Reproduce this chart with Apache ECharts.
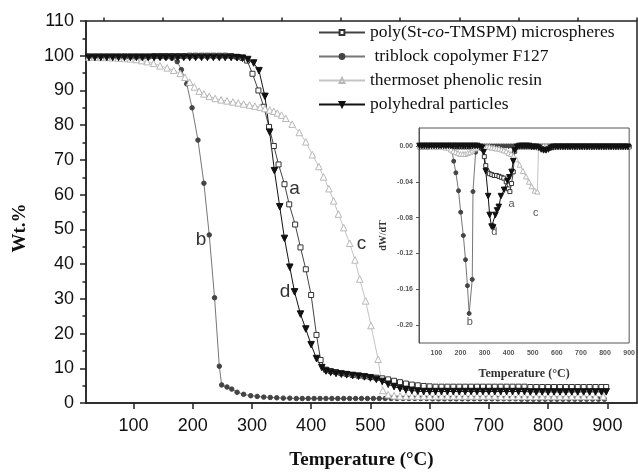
<!DOCTYPE html>
<html>
<head>
<meta charset="utf-8">
<script src="https://cdn.jsdelivr.net/npm/echarts@6/dist/echarts.min.js"></script>
<style>
  html, body { margin: 0; padding: 0; background: #fff; }
  #main { width: 638px; height: 475px; }
</style>
</head>
<body>
<div id="main"></div>
<script>
// TGA curves, [temperature, wt%]
var tgaA = [
  [25,99.8],[35,99.8],[45,99.8],[55,99.8],[65,99.8],[75,99.8],[85,99.8],[95,99.8],[105,99.8],[115,99.8],
  [125,99.8],[135,99.9],[145,99.9],[155,99.9],[165,99.9],[175,99.9],[185,99.9],[195,100],[205,100],[215,100],
  [225,100],[235,100],[245,100],[255,100],[265,99.9],[275,99.7],[284,99.4],[292,98.6],[301,94.8],[311,90.0],
  [320,85.3],[329,79.5],[337,74.0],[345,68.7],[355,63.0],[363,57.2],[373,51.4],[382,44.8],[391,38.5],[400,31.1],
  [409,19.6],[416,12.4],[425,9.6],[433,9.2],[442,8.9],[451,8.6],[460,8.4],[470,8.1],[480,7.9],[490,7.7],
  [500,7.5],[510,7.3],[520,7.1],[530,6.8],[540,6.4],[550,6.0],[560,5.6],[570,5.3],[580,5.1],[590,4.9],
  [600,4.8],[610,4.7],[620,4.7],[630,4.7],[640,4.7],[650,4.7],[660,4.7],[670,4.7],[680,4.7],[690,4.7],
  [700,4.7],[710,4.7],[720,4.7],[730,4.7],[740,4.7],[750,4.7],[760,4.7],[770,4.6],[780,4.6],[790,4.6],
  [800,4.6],[810,4.6],[820,4.6],[830,4.6],[840,4.6],[850,4.6],[860,4.6],[870,4.6],[880,4.6],[890,4.6],[898,4.6]
];
var tgaB = [
  [25,99.7],[35,99.7],[45,99.7],[55,99.7],[65,99.7],[75,99.7],[85,99.7],[95,99.7],[105,99.7],[115,99.7],
  [125,99.7],[135,99.7],[145,99.6],[155,99.5],[165,99.3],[174,98.3],[181,96.0],[190,91.9],[199,85.0],[209,75.7],
  [219,63.3],[228,48.4],[237,30.3],[245,10.6],[249,5.2],[258,4.6],[266,4.0],[275,3.1],[286,2.5],[298,2.1],
  [309,1.9],[320,1.7],[331,1.6],[342,1.5],[353,1.4],[364,1.4],[375,1.3],[385,1.3],[395,1.3],[405,1.3],
  [415,1.3],[425,1.3],[435,1.3],[445,1.3],[455,1.3],[465,1.3],[475,1.3],[485,1.3],[495,1.3],[505,1.3],
  [515,1.3],[525,1.3],[535,1.3],[545,1.3],[555,1.3],[565,1.3],[575,1.3],[585,1.3],[595,1.3],[605,1.2],
  [615,1.2],[625,1.2],[635,1.2],[645,1.2],[655,1.2],[665,1.2],[675,1.2],[685,1.2],[695,1.2],[705,1.2],
  [715,1.2],[725,1.2],[735,1.2],[745,1.2],[755,1.1],[765,1.1],[775,1.1],[785,1.1],[795,1.1],[805,1.1],
  [815,1.1],[825,1.1],[835,1.1],[845,1.1],[855,1.1],[865,1.1],[875,1.1],[885,1.1],[895,1.1]
];
var tgaC = [
  [25,99.6],[35,99.6],[45,99.5],[55,99.5],[65,99.4],[75,99.3],[85,99.2],[95,99.1],[105,98.9],[114,98.6],
  [123,98.3],[134,97.8],[145,97.1],[157,96.5],[168,95.8],[179,94.9],[187,93.8],[195,92.4],[203,91.0],[211,89.8],
  [219,89.0],[228,88.3],[238,87.7],[248,87.3],[258,87.0],[268,86.7],[277,86.4],[286,86.1],[296,85.8],[305,85.5],
  [314,85.2],[322,84.8],[330,84.4],[337,84.0],[343,83.5],[350,82.9],[357,82.0],[368,80.3],[380,77.9],[391,75.2],
  [402,71.5],[413,68.1],[421,65.1],[430,61.7],[438,58.2],[446,54.4],[455,50.5],[465,46.0],[474,41.2],[482,35.7],
  [492,29.4],[501,22.3],[513,12.6],[521,3.6],[530,2.4],[540,2.1],[550,2.0],[560,2.0],[570,2.0],[580,2.0],
  [590,2.0],[600,2.0],[610,2.0],[620,2.0],[630,2.0],[640,2.0],[650,2.0],[660,2.0],[670,2.0],[680,2.0],
  [690,2.0],[700,2.0],[710,2.0],[720,1.9],[730,1.9],[740,1.9],[750,1.9],[760,1.9],[770,1.9],[780,1.9],
  [790,1.9],[800,1.9],[810,1.9],[820,1.9],[830,1.9],[840,1.9],[850,1.9],[860,1.9],[870,1.9],[880,1.9],[893,1.9]
];
var tgaD = [
  [25,99.5],[35,99.5],[45,99.5],[55,99.5],[65,99.5],[75,99.5],[85,99.5],[95,99.5],[105,99.5],[115,99.5],
  [125,99.5],[135,99.5],[145,99.5],[155,99.5],[165,99.5],[175,99.5],[185,99.5],[195,99.5],[205,99.5],[215,99.5],
  [225,99.5],[235,99.5],[245,99.5],[255,99.5],[265,99.5],[275,99.4],[284,99.3],[293,98.9],[303,97.9],[312,95.7],
  [322,88.3],[330,78.0],[338,66.9],[347,56.5],[355,47.4],[364,39.1],[372,32.0],[382,25.6],[391,21.3],[400,16.8],
  [409,12.8],[418,10.2],[425,9.2],[433,8.8],[442,8.5],[451,8.3],[460,8.1],[470,7.9],[480,7.7],[490,7.5],
  [500,7.2],[510,6.8],[520,6.2],[530,5.4],[540,4.7],[550,4.2],[560,3.8],[570,3.6],[580,3.4],[590,3.3],
  [600,3.3],[610,3.3],[620,3.3],[630,3.3],[640,3.3],[650,3.3],[660,3.3],[670,3.3],[680,3.3],[690,3.3],
  [700,3.3],[710,3.3],[720,3.3],[730,3.3],[740,3.3],[750,3.3],[760,3.3],[770,3.2],[780,3.2],[790,3.2],
  [800,3.2],[810,3.2],[820,3.2],[830,3.2],[840,3.2],[850,3.2],[860,3.2],[870,3.2],[880,3.2],[890,3.2],[898,3.2]
];

// DTG curves for the inset, [temperature, dW/dT]
var dtgA = [
  [30,-0.001],[40,-0.001],[50,-0.001],[60,-0.001],[70,-0.001],[80,-0.001],[90,-0.001],[100,-0.001],[110,-0.001],[120,-0.001],
  [130,-0.001],[140,-0.001],[150,-0.001],[160,-0.001],[170,-0.001],[180,-0.001],[190,-0.001],[200,-0.001],[210,-0.001],[220,-0.001],
  [230,-0.001],[240,-0.001],[250,-0.001],[260,-0.001],[270,-0.001],[280,-0.002],[290,-0.003],[299,-0.012],[305,-0.022],[312,-0.029],
  [320,-0.031],[330,-0.032],[340,-0.033],[350,-0.033],[360,-0.034],[370,-0.035],[380,-0.036],[390,-0.040],[399,-0.048],[405,-0.051],
  [412,-0.042],[419,-0.029],[425,-0.006],[432,-0.001],[440,-0.001],[450,-0.001],[460,-0.001],[470,-0.001],[480,-0.001],[490,-0.001],
  [500,-0.001],[510,-0.001],[520,-0.001],[530,-0.002],[540,-0.002],[550,-0.002],[560,-0.002],[570,-0.002],[580,-0.002],[590,-0.001],
  [600,-0.001],[610,-0.001],[620,-0.001],[630,-0.001],[640,-0.001],[650,-0.001],[660,-0.001],[670,-0.001],[680,-0.001],[690,-0.001],
  [700,-0.001],[710,-0.001],[720,-0.001],[730,-0.001],[740,-0.001],[750,-0.001],[760,-0.001],[770,-0.001],[780,-0.001],[790,-0.001],
  [800,-0.001],[810,-0.001],[820,-0.001],[830,-0.001],[840,-0.001],[850,-0.001],[860,-0.001],[870,-0.001],[880,-0.001],[890,-0.001],[900,-0.001]
];
var dtgB = [
  [30,0],[40,0],[50,0],[60,0],[70,0],[80,0],[90,0],[100,0],[110,0],[120,0],
  [130,0],[140,0],[150,-0.001],[160,-0.002],[165,-0.005],[172,-0.017],[181,-0.030],[192,-0.050],[201,-0.074],[212,-0.100],
  [221,-0.127],[229,-0.156],[236,-0.187],[249,-0.149],[252,-0.051],[263,-0.007],[272,-0.002],[280,-0.001],[290,0],[300,0],
  [310,0],[320,0],[330,0],[340,0],[350,0],[360,0],[370,0],[380,0],[390,0],[400,0],
  [410,0],[420,0],[430,0],[440,0],[450,0],[460,0],[470,0],[480,0],[490,0],[500,0],
  [510,0],[520,0],[530,0],[540,0],[550,0],[560,0],[570,0],[580,0],[590,0],[600,0],
  [610,0],[620,0],[630,0],[640,0],[650,0],[660,0],[670,0],[680,0],[690,0],[700,0],
  [710,0],[720,0],[730,0],[740,0],[750,0],[760,0],[770,0],[780,0],[790,0],[800,0],
  [810,0],[820,0],[830,0],[840,0],[850,0],[860,0],[870,0],[880,0],[890,0],[900,0]
];
var dtgC = [
  [30,0],[40,0],[50,0],[60,0],[70,0],[80,-0.001],[90,-0.001],[100,-0.001],[110,-0.001],[120,-0.001],
  [130,-0.001],[140,-0.002],[150,-0.002],[160,-0.004],[170,-0.006],[180,-0.007],[190,-0.008],[200,-0.009],[210,-0.009],[220,-0.009],
  [230,-0.008],[240,-0.007],[250,-0.005],[260,-0.003],[270,-0.002],[280,-0.001],[290,-0.001],[300,-0.001],[310,-0.001],[320,-0.001],
  [330,-0.002],[340,-0.002],[350,-0.003],[360,-0.003],[370,-0.004],[380,-0.005],[390,-0.006],[400,-0.008],[410,-0.009],[420,-0.011],
  [432,-0.015],[445,-0.021],[459,-0.028],[472,-0.034],[484,-0.040],[495,-0.045],[508,-0.050],[519,-0.051],[524,-0.002],[535,-0.001],
  [545,0],[555,0],[565,0],[575,0],[585,0],[595,0],[605,0],[615,0],[625,0],[635,0],
  [645,0],[655,0],[665,0],[675,0],[685,0],[695,0],[705,0],[715,0],[725,0],[735,0],
  [745,0],[755,0],[765,0],[775,0],[785,0],[795,0],[805,0],[815,0],[825,0],[835,0],
  [845,0],[855,0],[865,0],[875,0],[885,0],[895,0]
];
var dtgD = [
  [30,0],[40,0],[50,0],[60,0],[70,0],[80,0],[90,0],[100,0],[110,0],[120,0],
  [130,0],[140,0],[150,0],[160,0],[170,0],[180,0],[190,0],[200,0],[210,0],[220,0],
  [230,0],[240,0],[250,0],[260,0],[270,0],[280,-0.001],[290,-0.002],[296,-0.007],[305,-0.028],[315,-0.056],
  [321,-0.077],[329,-0.090],[336,-0.091],[345,-0.077],[352,-0.072],[359,-0.068],[368,-0.056],[381,-0.049],[395,-0.039],[403,-0.035],
  [412,-0.029],[419,-0.017],[425,-0.005],[435,-0.001],[445,0],[455,0],[465,0],[475,0],[485,0],[495,-0.001],
  [505,-0.001],[515,-0.001],[525,-0.002],[535,-0.004],[545,-0.005],[555,-0.005],[565,-0.004],[575,-0.002],[585,-0.001],[595,-0.001],
  [605,-0.001],[615,-0.001],[625,-0.001],[635,-0.001],[645,-0.001],[655,-0.001],[665,-0.001],[675,-0.001],[685,-0.001],[695,-0.001],
  [705,-0.001],[715,-0.001],[725,-0.001],[735,-0.001],[745,-0.001],[755,-0.001],[765,-0.001],[775,-0.001],[785,-0.001],[795,-0.001],
  [805,-0.001],[815,-0.001],[825,-0.001],[835,-0.001],[845,-0.001],[855,-0.001],[865,-0.001],[875,-0.001],[885,-0.001],[895,-0.001]
];

var seriesNames = [
  'poly(St-co-TMSPM) microspheres',
  ' triblock copolymer F127',
  'thermoset phenolic resin',
  'polyhedral particles'
];
var curveLetters = ['a', 'b', 'c', 'd'];
// where the letters sit, in data units
var tgaLetterPos = [[372, 61.7], [214, 46.9], [485, 45.9], [356, 31.9]];
var dtgLetterPos = [[412, -0.065], [239, -0.196], [512, -0.0746], [340, -0.096]];

var mainTicks = [100, 200, 300, 400, 500, 600, 700, 800, 900];
var mainMinorTicks = [50, 150, 250, 350, 450, 550, 650, 750, 850, 950];
var insetTicks = [50, 100, 150, 200, 250, 300, 350, 400, 450, 500, 550, 600, 650, 700, 750, 800, 850, 900];
var insetYTicks = [-0.2, -0.16, -0.12, -0.08, -0.04, 0];

var styles = [
  { symbol: 'rect', rotate: 0, size: [5, 4], fill: '#fff', border: '#333', line: '#444' },
  { symbol: 'circle', rotate: 0, size: [4.5, 4], fill: '#444', border: '#444', line: '#777' },
  { symbol: 'triangle', rotate: 0, size: [6.5, 5], fill: '#fff', border: '#b8b8b8', line: '#c4c4c4' },
  { symbol: 'triangle', rotate: 180, size: [6.5, 5.5], fill: '#111', border: '#111', line: '#111' }
];

function makeSeries(i, data, inset, letterPos) {
  var s = styles[i];
  return {
    name: seriesNames[i],
    type: 'line',
    xAxisIndex: inset ? 2 : 0,
    yAxisIndex: inset ? 1 : 0,
    data: data,
    symbol: s.symbol,
    symbolRotate: s.rotate,
    symbolSize: inset ? s.size[1] : s.size[0],
    showAllSymbol: true,
    lineStyle: { color: s.line, width: 1 },
    itemStyle: { color: s.fill, borderColor: s.border, borderWidth: 1 },
    emphasis: { disabled: true },
    markPoint: {
      symbol: 'circle',
      symbolSize: 1,
      itemStyle: { color: 'rgba(0,0,0,0)', borderWidth: 0 },
      label: {
        show: true,
        position: 'inside',
        formatter: curveLetters[i],
        fontFamily: 'Liberation Sans',
        fontSize: inset ? 11 : 19,
        color: inset ? '#555' : '#333'
      },
      data: [{ coord: letterPos }]
    }
  };
}

var series = [];
[tgaA, tgaB, tgaC, tgaD].forEach(function (d, i) {
  series.push(makeSeries(i, d, false, tgaLetterPos[i]));
});
[dtgA, dtgB, dtgC, dtgD].forEach(function (d, i) {
  series.push(makeSeries(i, d, true, dtgLetterPos[i]));
});

var myChart = echarts.init(document.getElementById('main'), null, { renderer: 'canvas' });
var option = {
  animation: false,
  backgroundColor: '#fff',
  grid: [
    { left: 86, top: 21, right: 1, bottom: 70, show: true, borderColor: '#222', borderWidth: 1.5 },
    { left: 419, top: 128, right: 1, bottom: 132, show: true, borderColor: '#555', borderWidth: 1, backgroundColor: '#fff' }
  ],
  legend: {
    orient: 'vertical',
    left: 318,
    top: 23,
    padding: 0,
    itemWidth: 46,
    itemHeight: 6,
    itemGap: 5,
    data: seriesNames,
    formatter: function (name) {
      return name.replace('-co-', '-{i|co}-');
    },
    textStyle: {
      fontFamily: 'Liberation Serif',
      fontSize: 17.5,
      lineHeight: 19,
      color: '#111',
      rich: {
        i: { fontFamily: 'Liberation Serif', fontSize: 17.5, fontStyle: 'italic', color: '#111' }
      }
    }
  },
  xAxis: [
    {
      type: 'value', gridIndex: 0, min: 20, max: 950,
      axisLine: { lineStyle: { color: '#222', width: 1.5 } },
      axisTick: { customValues: mainTicks, length: 6, lineStyle: { color: '#222', width: 1.5 } },
      axisLabel: { customValues: mainTicks, margin: 14, fontFamily: 'Liberation Sans', fontSize: 18, color: '#111' },
      splitLine: { show: false },
      name: 'Temperature (°C)', nameLocation: 'middle', nameGap: 48,
      nameTextStyle: { fontFamily: 'Liberation Serif', fontWeight: 'bold', fontSize: 19, color: '#111' }
    },
    {
      type: 'value', gridIndex: 0, min: 20, max: 950,
      axisLine: { show: false },
      axisTick: { customValues: mainMinorTicks, length: 3.5, lineStyle: { color: '#222', width: 1.5 } },
      axisLabel: { show: false },
      splitLine: { show: false }
    },
    {
      type: 'value', gridIndex: 1, min: 28, max: 900,
      axisLine: { lineStyle: { color: '#555', width: 1 } },
      axisTick: { customValues: insetTicks, length: 3, lineStyle: { color: '#555' } },
      axisLabel: { customValues: mainTicks, margin: 7, fontFamily: 'Liberation Sans', fontWeight: 'bold', fontSize: 7, color: '#555' },
      splitLine: { show: false },
      name: 'Temperature (°C)', nameLocation: 'middle', nameGap: 25,
      nameTextStyle: { fontFamily: 'Liberation Serif', fontWeight: 'bold', fontSize: 12, color: '#333' }
    }
  ],
  yAxis: [
    {
      type: 'value', gridIndex: 0, min: 0, max: 110, interval: 10,
      axisLine: { show: true, lineStyle: { color: '#222', width: 1.5 } },
      axisTick: { show: true, length: 6, lineStyle: { color: '#222', width: 1.5 } },
      minorTick: { show: true, splitNumber: 2, length: 3.5, lineStyle: { color: '#222', width: 1.5 } },
      axisLabel: { margin: 12, fontFamily: 'Liberation Sans', fontSize: 18, color: '#111' },
      splitLine: { show: false }
    },
    {
      type: 'value', gridIndex: 1, min: -0.22, max: 0.02,
      axisLine: { show: true, lineStyle: { color: '#555', width: 1 } },
      axisTick: { show: true, customValues: insetYTicks, length: 3, lineStyle: { color: '#555' } },
      axisLabel: {
        customValues: insetYTicks, margin: 6, fontFamily: 'Liberation Sans', fontWeight: 'bold', fontSize: 7, color: '#555',
        formatter: function (v) { return v.toFixed(2); }
      },
      splitLine: { show: false },
      name: 'dW/dT', nameLocation: 'middle', nameGap: 31, nameRotate: 90,
      nameTextStyle: { fontFamily: 'Liberation Serif', fontWeight: 'bold', fontSize: 10, color: '#333' }
    }
  ],
  graphic: [
    {
      type: 'text', x: 20, y: 228, rotation: Math.PI / 2,
      style: {
        text: 'Wt.%', font: 'bold 19px "Liberation Serif"', fill: '#111',
        textAlign: 'center', textVerticalAlign: 'middle'
      }
    }
  ],
  series: series
};
myChart.setOption(option);
</script>
</body>
</html>
